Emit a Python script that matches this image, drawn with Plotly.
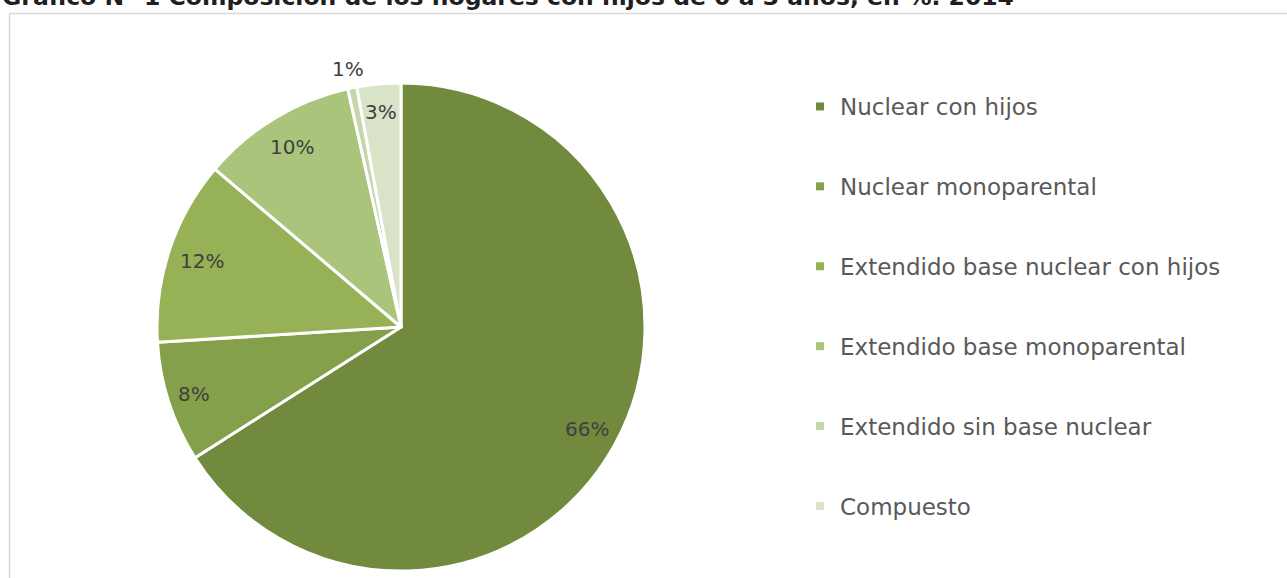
import math
import plotly.graph_objects as go

labels = ["Nuclear con hijos", "Nuclear monoparental", "Extendido base nuclear con hijos",
          "Extendido base monoparental", "Extendido sin base nuclear", "Compuesto"]
values = [66.0, 8.0, 12.2, 10.3, 0.6, 2.9]
colors = ["#718A3E", "#85A04A", "#96B156", "#AAC47B", "#C4D7A9", "#D8E3C7"]
label_radius = [0.87, 0.89, 0.86, 0.86, 1.08, 0.885]  # label distance from centre, fraction of radius
title_text = "Gráfico N° 1 Composición de los hogares con hijos de 0 a 3 años, en %. 2014"

W, H = 1287, 578
CX, CY, R = 401, 327, 244  # pie centre and radius in pixels
fig = go.Figure()

fig.add_trace(go.Pie(
    labels=labels, values=values, sort=False, direction="clockwise", rotation=0,
    marker=dict(colors=colors, line=dict(color="white", width=3)),
    textinfo="none", showlegend=False, hoverinfo="label+percent",
    domain=dict(x=[(CX - R) / W, (CX + R) / W], y=[1 - (CY + R) / H, 1 - (CY - R) / H]),
))

# data labels at each slice's mid-angle
total = sum(values)
cum = 0.0
for v, rf in zip(values, label_radius):
    mid = (cum + v / 2) / total * 2 * math.pi
    cum += v
    px = CX + rf * R * math.sin(mid)
    py = CY - rf * R * math.cos(mid)
    fig.add_annotation(text=f"{v / total * 100:.0f}%", xref="paper", yref="paper",
                       x=px / W, y=1 - py / H, xanchor="center", yanchor="middle",
                       showarrow=False,
                       font=dict(family="DejaVu Sans", size=20, color="#404040"))

for lab, col in zip(labels, colors):
    fig.add_trace(go.Scatter(
        x=[None], y=[None], mode="markers", name=lab, legendgroup=lab,
        marker=dict(symbol="square", size=8, color=col),
    ))

fig.add_shape(type="line", xref="paper", yref="paper",
              x0=9.5 / W, x1=9.5 / W, y0=0, y1=1 - 13.5 / H,
              line=dict(color="#D9D9D9", width=1.5))
fig.add_shape(type="line", xref="paper", yref="paper",
              x0=9.5 / W, x1=1.0, y0=1 - 13.5 / H, y1=1 - 13.5 / H,
              line=dict(color="#D9D9D9", width=1.5))

fig.add_annotation(text="<b>" + title_text + "</b>", xref="paper", yref="paper",
                   x=0, y=1 - 13 / H, xanchor="left", yanchor="bottom", showarrow=False,
                   font=dict(family="DejaVu Sans", size=23.5, color="#1F1F1F"))

fig.update_layout(
    width=W, height=H, margin=dict(l=0, r=0, t=0, b=0),
    paper_bgcolor="white", plot_bgcolor="white",
    xaxis=dict(visible=False), yaxis=dict(visible=False),
    legend=dict(x=800 / W, y=1 - 85 / H, xanchor="left", yanchor="top",
                font=dict(family="DejaVu Sans", size=23, color="#595959"),
                tracegroupgap=47, itemclick=False),
)

fig.write_html("out.html", config={"displayModeBar": False},
               post_script="document.body.style.margin='0';")
